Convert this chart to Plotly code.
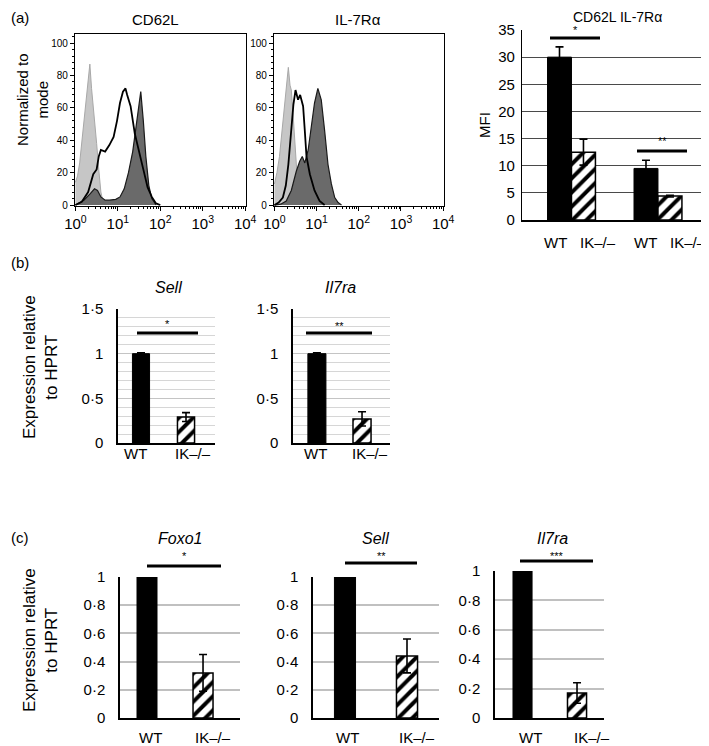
import numpy as np
import plotly.graph_objects as go

# The page body has an 8px default margin; the figure is sized to fill the window after it.
OFF = 8
W, H = 709 - OFF, 746 - OFF
FONT = "Liberation Sans, Arial, sans-serif"

# ---------------- data ----------------
# Histograms (log10 fluorescence positions, % of mode)
cd62l_ctrl_log = [0, 0.05, 0.1, 0.15, 0.2, 0.25, 0.3, 0.34, 0.38, 0.42, 0.46, 0.5, 0.55, 0.6, 0.65, 0.7]
cd62l_ctrl_y = [14, 18, 26, 38, 52, 66, 78, 87, 72, 62, 50, 38, 22, 8, 2, 0]
cd62l_ik_log = [0, 0.15, 0.3, 0.42, 0.5, 0.55, 0.6, 0.7, 0.8, 0.9, 0.98, 1.05, 1.12, 1.18, 1.22, 1.3, 1.4, 1.5, 1.6, 1.7, 1.8, 1.9, 2.0]
cd62l_ik_y = [0, 2, 8, 19, 22, 30, 34, 33, 37, 42, 52, 63, 70, 72, 68, 61, 44, 32, 22, 11, 5, 1, 0]
cd62l_wt_log = [0, 0.2, 0.35, 0.45, 0.52, 0.6, 0.7, 0.8, 0.95, 1.05, 1.15, 1.25, 1.35, 1.45, 1.54, 1.6, 1.66, 1.73, 1.8, 1.9]
cd62l_wt_y = [0, 3, 7, 10, 9, 5, 3, 3, 3.5, 5, 10, 20, 33, 52, 70, 52, 30, 12, 4, 0]

il7_ctrl_log = [0, 0.06, 0.12, 0.18, 0.24, 0.29, 0.33, 0.37, 0.4, 0.44, 0.48, 0.53, 0.6, 0.66, 0.72]
il7_ctrl_y = [13, 20, 30, 45, 61, 76, 85, 74, 71, 57, 40, 21, 7, 1, 0]
il7_ik_log = [0, 0.1, 0.2, 0.27, 0.33, 0.4, 0.45, 0.5, 0.56, 0.61, 0.68, 0.72, 0.76, 0.84, 0.95, 1.07, 1.19]
il7_ik_y = [0, 1.5, 4.6, 12, 25, 46, 62, 71, 65, 68, 61, 46, 30, 19, 9, 2.5, 0]
il7_wt_log = [0, 0.15, 0.28, 0.4, 0.52, 0.6, 0.66, 0.72, 0.8, 0.88, 0.95, 1.03, 1.11, 1.19, 1.27, 1.35, 1.43, 1.51, 1.59]
il7_wt_y = [0, 0.5, 2.5, 9, 21, 27, 30, 26, 34, 48, 63, 72, 65, 46, 25, 13, 4.6, 1.5, 0]

# MFI bars
mfi_groups = ["CD62L", "IL-7Rα"]
mfi_wt = [30.0, 9.5]
mfi_wt_err = [1.9, 1.5]
mfi_ik = [12.5, 4.4]
mfi_ik_err = [2.4, 0.15]

genotypes = ["WT", "IK–/–"]
# (b) qPCR
b_sell = [1.0, 0.29]
b_sell_err = [0.01, 0.05]
b_il7ra = [1.0, 0.27]
b_il7ra_err = [0.01, 0.08]
# (c) qPCR
c_foxo1 = [1.0, 0.32]
c_foxo1_err = [0.0, 0.13]
c_sell = [1.0, 0.44]
c_sell_err = [0.0, 0.12]
c_il7ra = [1.0, 0.17]
c_il7ra_err = [0.0, 0.07]

hist_ticks = [1, 10, 100, 1000, 10000]
hist_ticktext = ["10<sup>0</sup>", "10<sup>1</sup>", "10<sup>2</sup>", "10<sup>3</sup>", "10<sup>4</sup>"]
b_ticks = [0, 0.5, 1, 1.5]
b_ticktext = ["0", "0·5", "1", "1·5"]
c_ticks = [0, 0.2, 0.4, 0.6, 0.8, 1]
c_ticktext = ["0", "0·2", "0·4", "0·6", "0·8", "1"]

# ---------------- helpers (window pixels -> paper fractions) ----------------
def px(x):
    return (x - OFF) / W

def py(y):
    return 1 - (y - OFF) / H

def xdom(a, b):
    return [px(a), px(b)]

def ydom(top, bot):
    return [py(bot), py(top)]

fig = go.Figure()
layout = dict(template="none", width=W, height=H, margin=dict(l=0, r=0, t=0, b=0, pad=0),
              autosize=False,
              paper_bgcolor="white", plot_bgcolor="white", showlegend=False,
              barmode="overlay", font=dict(family=FONT, color="black", size=14))
annotations = []
shapes = []

def ann(text, x, y, size=14, angle=0, italic=False):
    if italic:
        text = "<i>" + text + "</i>"
    annotations.append(dict(text=text, x=px(x), y=py(y), xref="paper", yref="paper",
                            showarrow=False, font=dict(size=size, family=FONT, color="black"),
                            textangle=angle, xanchor="center", yanchor="middle"))

def sigline(x0, x1, y, star, ystar):
    shapes.append(dict(type="line", xref="paper", yref="paper", x0=px(x0), x1=px(x1),
                       y0=py(y), y1=py(y), line=dict(color="black", width=3)))
    ann(star, (x0 + x1) / 2, ystar, size=11)

# ---------------- histograms ----------------
minor_vals = [m * 10 ** d for d in range(4) for m in range(2, 10)]
def hist(n, xd, ctrl, ik, wt):
    xa = "x" if n == 1 else f"x{n}"
    ya = "y" if n == 1 else f"y{n}"
    lx, ly = ctrl
    fig.add_trace(go.Scatter(x=10 ** np.array(lx), y=ly, mode="lines", fill="tozeroy",
                             fillcolor="#c6c6c6", line=dict(color="#a8a8a8", width=1),
                             xaxis=xa, yaxis=ya))
    lx, ly = wt
    fig.add_trace(go.Scatter(x=10 ** np.array(lx), y=ly, mode="lines", fill="tozeroy",
                             fillcolor="#6a6a6a", line=dict(color="#1a1a1a", width=1.2),
                             xaxis=xa, yaxis=ya))
    lx, ly = ik
    fig.add_trace(go.Scatter(x=10 ** np.array(lx), y=ly, mode="lines",
                             line=dict(color="black", width=1.8), xaxis=xa, yaxis=ya))
    kx = "xaxis" if n == 1 else f"xaxis{n}"
    ky = "yaxis" if n == 1 else f"yaxis{n}"
    layout[kx] = dict(domain=xdom(*xd), type="log", range=[-0.01, 4.02], anchor=ya,
                      automargin=False,
                      tickvals=hist_ticks, ticktext=hist_ticktext, ticks="outside", ticklen=4,
                      tickcolor="black",
                      tickfont=dict(size=15), showline=True, linecolor="black", linewidth=1.2,
                      mirror=True, showgrid=False, zeroline=False,
                      minor=dict(tickvals=minor_vals, ticks="outside", ticklen=2, tickcolor="black"))
    layout[ky] = dict(domain=ydom(34, 206), range=[-0.6, 105.6], anchor=xa,
                      automargin=False,
                      tickvals=[0, 20, 40, 60, 80, 100], ticks="outside", ticklen=4,
                      tickcolor="black",
                      tickfont=dict(size=10), showline=True, linecolor="black", linewidth=1.2,
                      mirror=True, showgrid=False, zeroline=False,
                      minor=dict(dtick=4, ticks="outside", ticklen=2, tickcolor="black"))

hist(1, (75, 246), (cd62l_ctrl_log, cd62l_ctrl_y), (cd62l_ik_log, cd62l_ik_y), (cd62l_wt_log, cd62l_wt_y))
hist(2, (274, 444), (il7_ctrl_log, il7_ctrl_y), (il7_ik_log, il7_ik_y), (il7_wt_log, il7_wt_y))

# ---------------- bars ----------------
HATCH = dict(color="white", line=dict(color="black", width=1.5),
             pattern=dict(shape="/", fgcolor="black", bgcolor="white", size=10, solidity=0.4))
SOLID = dict(color="black", line=dict(color="black", width=1))

def errb(arr):
    return dict(type="data", array=arr, visible=True, color="black", thickness=1.6, width=4)

# MFI (panel a right)
bw = 0.277
fig.add_trace(go.Bar(x=mfi_groups, y=mfi_wt, width=bw, offset=-bw, marker=SOLID,
                     error_y=errb(mfi_wt_err), xaxis="x3", yaxis="y3"))
fig.add_trace(go.Bar(x=mfi_groups, y=mfi_ik, width=bw, offset=0, marker=HATCH,
                     error_y=errb(mfi_ik_err), xaxis="x3", yaxis="y3"))
layout["xaxis3"] = dict(domain=xdom(522, 702), type="category", range=[-0.572, 1.509],
                        anchor="y3", showticklabels=False, ticks="", showline=True,
                        automargin=False,
                        linecolor="black", linewidth=1.5, showgrid=False, zeroline=False)
layout["yaxis3"] = dict(domain=ydom(30, 220), range=[0, 35], dtick=5, anchor="x3",
                        automargin=False,
                        tickfont=dict(size=15), showline=True, linecolor="black", linewidth=1.2,
                        showgrid=True, gridcolor="#4a4a4a", gridwidth=1, zeroline=False,
                        ticks="", ticklabelstandoff=3)

def qbar(n, xd, yd, rng, vals, errs, w, ticks, ticktext, minor=None, gridcolor="#c0c0c0",
         gridwidth=1.5, standoff_y=8):
    xa, ya = f"x{n}", f"y{n}"
    fig.add_trace(go.Bar(x=[genotypes[0]], y=[vals[0]], width=w, marker=SOLID,
                         error_y=errb([errs[0]]), xaxis=xa, yaxis=ya))
    fig.add_trace(go.Bar(x=[genotypes[1]], y=[vals[1]], width=w, marker=HATCH,
                         error_y=errb([errs[1]]), xaxis=xa, yaxis=ya))
    layout[f"xaxis{n}"] = dict(domain=xdom(*xd), type="category", range=rng,
                               categoryorder="array", categoryarray=genotypes,
                               automargin=False, showticklabels=False,
                               anchor=ya, ticks="", showline=True,
                               linecolor="black", linewidth=1.5, showgrid=False, zeroline=False)
    yax = dict(domain=ydom(*yd), range=[0, ticks[-1]], anchor=xa, tickvals=ticks,
               automargin=False,
               ticktext=ticktext, tickfont=dict(size=15), showline=True, linecolor="black",
               linewidth=1.5, showgrid=True, gridcolor=gridcolor, gridwidth=gridwidth,
               zeroline=False, ticks="", ticklabelstandoff=standoff_y)
    if minor:
        yax["minor"] = minor
    layout[f"yaxis{n}"] = yax

bminor = dict(dtick=0.1, showgrid=True, gridcolor="#d6d6d6", gridwidth=1, ticks="")
qbar(4, (118, 215), (309, 443), [-0.511, 1.644], b_sell, b_sell_err, 0.38, b_ticks, b_ticktext,
     minor=bminor, gridcolor="#c4c4c4", gridwidth=1, standoff_y=10)
qbar(5, (293, 390), (309, 443), [-0.53, 1.62], b_il7ra, b_il7ra_err, 0.4, b_ticks, b_ticktext,
     minor=bminor, gridcolor="#c4c4c4", gridwidth=1, standoff_y=10)
qbar(6, (120, 240), (577, 718), [-0.482, 1.66], c_foxo1, c_foxo1_err, 0.357, c_ticks, c_ticktext,
     standoff_y=10)
qbar(7, (313, 439), (577, 718), [-0.516, 1.516], c_sell, c_sell_err, 0.34, c_ticks, c_ticktext,
     standoff_y=10)
qbar(8, (495, 604), (571, 718), [-0.505, 1.495], c_il7ra, c_il7ra_err, 0.35, c_ticks, c_ticktext,
     standoff_y=10)

# ---------------- text ----------------
ann("(a)", 20, 17, 15)
ann("CD62L", 155, 20, 15)
ann("IL-7Rα", 358, 20, 15)
ann("CD62L IL-7Rα", 617, 17, 14)
ann("Normalized to<br>mode", 32, 100, 15, angle=-90)
ann("MFI", 484, 125, 15, angle=-90)
for gx, lab in zip([555, 598, 645, 688], genotypes * 2):
    ann(lab, gx, 242, 15)
sigline(550, 600, 38, "*", 30)
sigline(637, 687, 151, "**", 141)

ann("(b)", 20, 263, 15)
ann("Sell", 168, 287, 16, italic=True)
ann("Il7ra", 340, 287, 16, italic=True)
ann("Expression relative<br>to HPRT", 40, 367, 17, angle=-90)
for gx, lab in zip([135, 193, 315, 370], genotypes * 2):
    ann(lab, gx, 453, 15)
sigline(137, 198, 333, "*", 324)
sigline(306, 372, 333, "**", 326)

ann("(c)", 20, 537, 15)
ann("Foxo1", 180, 538, 16, italic=True)
ann("Sell", 375, 538, 16, italic=True)
ann("Il7ra", 552, 538, 16, italic=True)
ann("Expression relative<br>to HPRT", 40, 640, 17, angle=-90)
for gx, lab in zip([150, 213, 347, 417, 530, 592], genotypes * 3):
    ann(lab, gx, 737, 15)
sigline(147, 221, 566, "*", 556)
sigline(345, 417, 563, "**", 556)
sigline(520, 593, 561, "***", 556)

layout["annotations"] = annotations
layout["shapes"] = shapes
fig.update_layout(**layout)
fig.write_html("out.html")
